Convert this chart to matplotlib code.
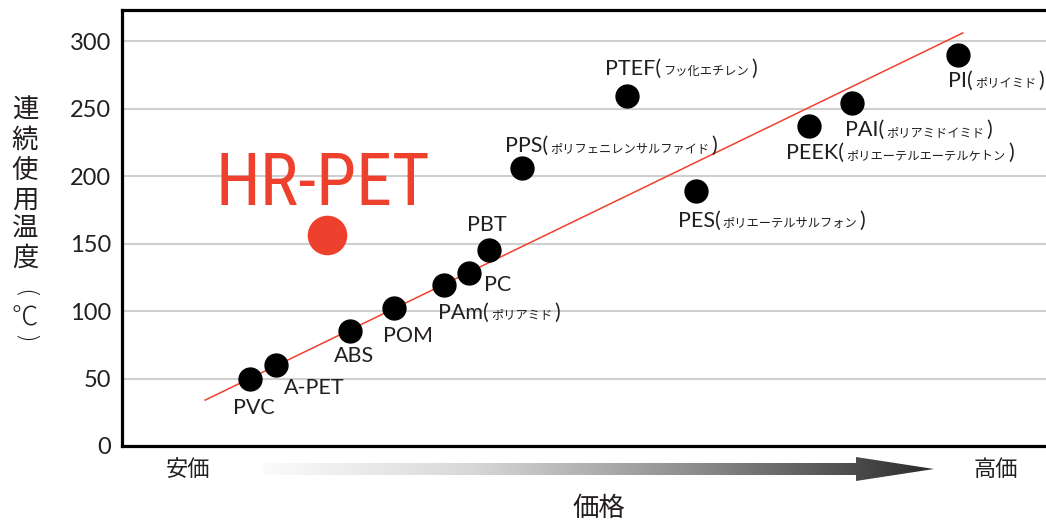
import numpy as np
import matplotlib
matplotlib.use("Agg")
import matplotlib.pyplot as plt
from matplotlib import font_manager as fm
from matplotlib.offsetbox import TextArea, HPacker, AnnotationBbox
from matplotlib.patches import Polygon

# ---------------- data ----------------
materials = ["PVC", "A-PET", "ABS", "POM", "PAm", "PC", "PBT", "PPS",
             "PTEF", "PES", "PEEK", "PAI", "PI"]
subnames = ["", "", "", "", "ポリアミド", "", "", "ポリフェニレンサルファイド",
            "フッ化エチレン", "ポリエーテルサルフォン", "ポリエーテルエーテルケトン",
            "ポリアミドイミド", "ポリイミド"]
price_index = [13.8, 16.7, 24.7, 29.4, 34.9, 37.5, 39.7, 43.3,
               54.7, 62.1, 74.4, 79.0, 90.5]
temperature = [50, 60, 85, 102, 119, 128, 145, 206, 259, 189, 237, 254, 290]
hr_name = "HR-PET"
hr_price = [22.2]
hr_temperature = [156]
trend_x = [9.0, 91.0]
trend_y = [34, 306]
yticks = [0, 50, 100, 150, 200, 250, 300]
ylabel_chars = ["連", "続", "使", "用", "温", "度"]
ylabel_unit = ["(", "℃", ")"]
cheap_label = "安価"
expensive_label = "高価"
xlabel = "価格"

# label placement (offset pixels, alignment)
label_offsets = [(4, -29, 0.5), (8, -23, 0), (4, -25, 0.5), (14, -28, 0.5),
                 (-6, -27, 0), (15, -12, 0), (-2, 25, 0.5), (-17, 22, 0),
                 (-22, 28, 0), (-18, -30, 0), (-23, -27, 0), (-7, -27, 0),
                 (-10, -26, 0)]

RED = "#EE412D"
TXT = "#231F20"

W, H = 1046, 521
fig = plt.figure(figsize=(W / 100, H / 100), dpi=100)
ax = fig.add_axes([122 / W, (H - 446) / H, (W - 122) / W, (446 - 10) / H])

ax.set_xlim(0, 100)
ax.set_ylim(0, 323)
ax.set_yticks(yticks)
ax.set_xticks([])
ax.yaxis.grid(True, color="#CFCFCF", lw=1.5)
ax.set_axisbelow(True)
for s in ["left", "bottom", "top"]:
    ax.spines[s].set_linewidth(2.3)
    ax.spines[s].set_color("black")
ax.spines["right"].set_visible(False)
ax.tick_params(axis="y", length=0, pad=8, labelsize=17, labelcolor=TXT)
for t in ax.get_yticklabels():
    t.set_family(["Lato", "DejaVu Sans"])

# trend line
ax.plot(trend_x, trend_y, color=RED, lw=1.1, zorder=2)
# points
ax.plot(price_index, temperature, "o", color="black", ms=16.5, zorder=3)
ax.plot(hr_price, hr_temperature, "o", color=RED, ms=27.5, zorder=3)

# labels
big = dict(family=["Lato", "Noto Sans CJK JP"], size=15.5, color=TXT)
small = dict(family=["Noto Sans CJK JP"], size=8.8, color=TXT)
for name, sub, x, y, (dx, dy, ha) in zip(materials, subnames, price_index,
                                         temperature, label_offsets):
    if sub:
        children = [TextArea(name + "(", textprops=big),
                    TextArea(sub, textprops=small),
                    TextArea(")", textprops=big)]
    else:
        children = [TextArea(name, textprops=big)]
    box = HPacker(children=children, align="baseline", pad=0, sep=1.5)
    ab = AnnotationBbox(box, (x, y), xybox=(dx, dy), boxcoords="offset pixels",
                        box_alignment=(ha, 0.5), frameon=False, pad=0)
    ax.add_artist(ab)

# HR-PET big text (prefer an upright condensed face)
def upright(f):
    return f.style == "normal" and f.weight in (400, 500, "normal", "regular", "medium")

def pick_condensed():
    files = fm.fontManager.ttflist
    for cand in ["Roboto Condensed", "Liberation Sans Narrow", "Open Sans Condensed",
                 "DejaVu Sans Condensed"]:
        for f in files:
            if f.name == cand and upright(f):
                return fm.FontProperties(fname=f.fname), True
    for f in files:
        st = str(f.stretch)
        if upright(f) and "condensed" in st and "extra" not in st and "ultra" not in st:
            return fm.FontProperties(fname=f.fname), True
    return fm.FontProperties(family=["Roboto", "DejaVu Sans"]), False

hr_fp, condensed = pick_condensed()
hr_fp.set_size(52 if condensed else 44)
ax.annotate(hr_name, (hr_price[0], hr_temperature[0]), xytext=(-4, 50),
            textcoords="offset pixels", ha="center", va="center",
            color=RED, fontproperties=hr_fp)

# y label, stacked vertical characters
cjk = ["Noto Sans CJK JP", "DejaVu Sans"]
ylab_y = [110, 140, 170, 200, 229, 258]
for ch, py in zip(ylabel_chars, ylab_y):
    fig.text(25 / W, 1 - py / H, ch, ha="center", va="center", fontsize=19,
             family=cjk, color=TXT)
unit_y = [294, 317, 339]
unit_rot = [270, 0, 270]
unit_fam = [["DejaVu Sans"], cjk, ["DejaVu Sans"]]
unit_size = [18, 19, 18]
for ch, py, rot, fam, sz in zip(ylabel_unit, unit_y, unit_rot, unit_fam, unit_size):
    fig.text(25 / W, 1 - py / H, ch, ha="center", va="center", fontsize=sz,
             family=fam, color=TXT, rotation=rot, fontweight="light")

# bottom labels
fig.text(188 / W, 1 - 469 / H, cheap_label, ha="center", va="center",
         fontsize=16, family=cjk, color=TXT)
fig.text(996 / W, 1 - 469 / H, expensive_label, ha="center", va="center",
         fontsize=16, family=cjk, color=TXT)
fig.text(599 / W, 1 - 508 / H, xlabel, ha="center", va="center",
         fontsize=19, family=cjk, color=TXT)

# gradient arrow (decoration) in pixel-like coordinates
aax = fig.add_axes([200 / W, (H - 485) / H, (940 - 200) / W, 30 / H])
aax.set_xlim(200, 940)
aax.set_ylim(485, 455)
aax.axis("off")
verts = [(262, 463), (856, 463), (856, 457), (934, 469), (856, 481),
         (856, 475), (262, 475)]
poly = Polygon(verts, closed=True, facecolor="none", edgecolor="none")
aax.add_patch(poly)
grad = np.linspace(0, 1, 512)[None, :]
cmap = matplotlib.colors.LinearSegmentedColormap.from_list(
    "g", ["#FFFFFF", "#D8D8D8", "#8A8A8A", "#2B2B2B"])
im = aax.imshow(grad, extent=(240, 934, 481, 457), aspect="auto", cmap=cmap)
im.set_clip_path(poly)

fig.savefig("out.png", dpi=100)
